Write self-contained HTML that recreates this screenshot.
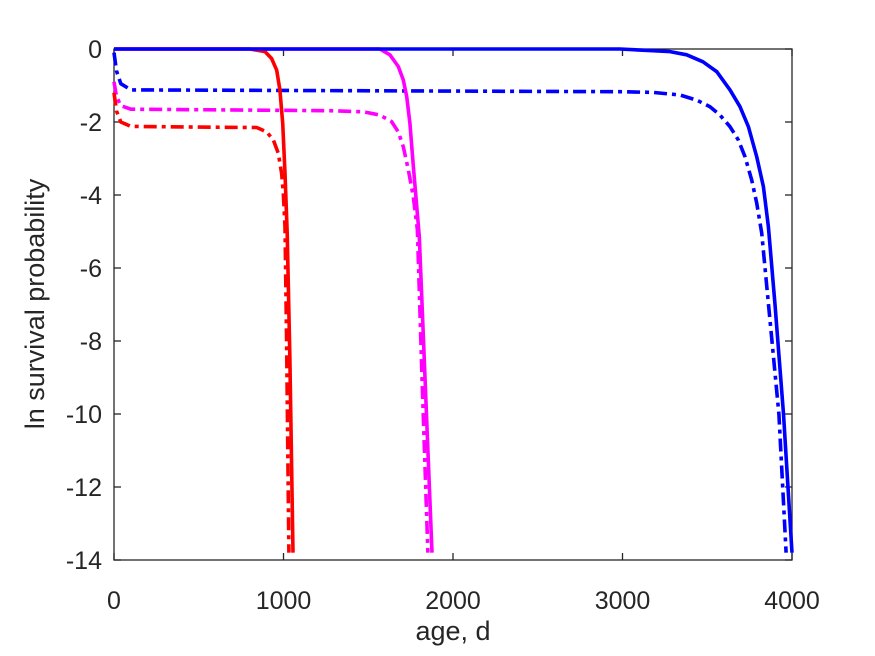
<!DOCTYPE html>
<html><head><meta charset="utf-8"><style>
body{margin:0;background:#fff;}
svg{display:block;font-family:"Liberation Sans",Arial,sans-serif;}
</style></head><body>
<svg id="chart" width="875" height="656">
<g id="axes"></g><g id="series"></g>
<text x="453" y="640" font-size="27" fill="#262626" text-anchor="middle">age, d</text>
<text transform="translate(44,304) rotate(-90)" font-size="27" fill="#262626" text-anchor="middle">ln survival probability</text>
</svg>
<script>
const xTicks=[0,1000,2000,3000,4000];
const yTicks=[0,-2,-4,-6,-8,-10,-12,-14];
const redSolidT=[0,802,891,930,960,979,995,1009,1022,1038,1056];
const redSolidV=[0,0,-0.07,-0.26,-0.58,-1.12,-2.03,-3.4,-5.04,-8.5,-13.8];
const redDashT=[0,15,40,100,507,842,901,940,969,989,999,1009,1018,1032];
const redDashV=[-1.2,-1.7,-2.0,-2.12,-2.14,-2.15,-2.27,-2.49,-2.85,-3.4,-3.95,-4.87,-8,-13.8];
const magSolidT=[0,1569,1628,1677,1707,1727,1746,1766,1786,1801,1835,1876];
const magSolidV=[0,0,-0.16,-0.48,-0.85,-1.3,-2.03,-3.2,-4.3,-5.14,-9,-13.8];
const magDashT=[0,15,40,100,1274,1471,1569,1638,1677,1707,1737,1766,1790,1817,1852];
const magDashV=[-0.9,-1.3,-1.55,-1.65,-1.69,-1.72,-1.81,-1.99,-2.27,-2.68,-3.32,-4.05,-4.96,-9,-13.8];
const blueSolidT=[0,2985,3280,3379,3475,3556,3634,3693,3743,3792,3831,3861,3900,3950,4000];
const blueSolidV=[0,0,-0.07,-0.16,-0.35,-0.62,-1.12,-1.58,-2.13,-2.95,-3.77,-4.87,-7,-10,-13.8];
const blueDashT=[0,15,40,100,2985,3180,3339,3437,3516,3575,3634,3683,3723,3762,3792,3821,3923,3965];
const blueDashV=[-0.1,-0.6,-0.95,-1.12,-1.17,-1.19,-1.26,-1.4,-1.58,-1.81,-2.13,-2.49,-2.95,-3.59,-4.22,-5.04,-10,-13.8];

const L=114,R=792,T=49,B=560;
const xs=t=>L+(t/4000)*(R-L);
const ys=v=>T+(v/-14)*(B-T);
const NS='http://www.w3.org/2000/svg';
const ax=document.getElementById('axes'),se=document.getElementById('series');
function mk(tag,attrs,parent){const e=document.createElementNS(NS,tag);for(const k in attrs)e.setAttribute(k,attrs[k]);parent.appendChild(e);return e;}
const box=mk('rect',{x:L,y:T,width:R-L,height:B-T,fill:'none',stroke:'#262626','stroke-width':1.3},ax);


xTicks.forEach(t=>{const x=xs(t);
 mk('line',{x1:x,x2:x,y1:B,y2:B-7,stroke:'#262626','stroke-width':1.3},ax);
 mk('line',{x1:x,x2:x,y1:T,y2:T+7,stroke:'#262626','stroke-width':1.3},ax);
 const tx=mk('text',{x:x,y:609,'font-size':25,fill:'#262626','text-anchor':'middle'},ax);tx.textContent=t;
 
 });
yTicks.forEach(v=>{const y=ys(v);
 mk('line',{x1:L,x2:L+7,y1:y,y2:y,stroke:'#262626','stroke-width':1.3},ax);
 mk('line',{x1:R,x2:R-7,y1:y,y2:y,stroke:'#262626','stroke-width':1.3},ax);
 const tx=mk('text',{x:102,y:y+9,'font-size':25,fill:'#262626','text-anchor':'end'},ax);tx.textContent=v;
 
 });
function line(T_,V_,color,dash,name){
 const pts=T_.map((t,i)=>xs(t).toFixed(1)+','+ys(V_[i]).toFixed(1)).join(' ');
 const p=mk('polyline',{points:pts,fill:'none',stroke:color,'stroke-width':3.6,'stroke-linejoin':'round'},se);
 if(dash)p.setAttribute('stroke-dasharray','13,5,4,5');
 
 }
line(blueDashT,blueDashV,'#0000ff',true,'blue-dashdot-line');
line(magDashT,magDashV,'#ff00ff',true,'magenta-dashdot-line');
line(redDashT,redDashV,'#ff0000',true,'red-dashdot-line');
line(redSolidT,redSolidV,'#ff0000',false,'red-solid-line');
line(magSolidT,magSolidV,'#ff00ff',false,'magenta-solid-line');
line(blueSolidT,blueSolidV,'#0000ff',false,'blue-solid-line');
</script>
</body></html>
